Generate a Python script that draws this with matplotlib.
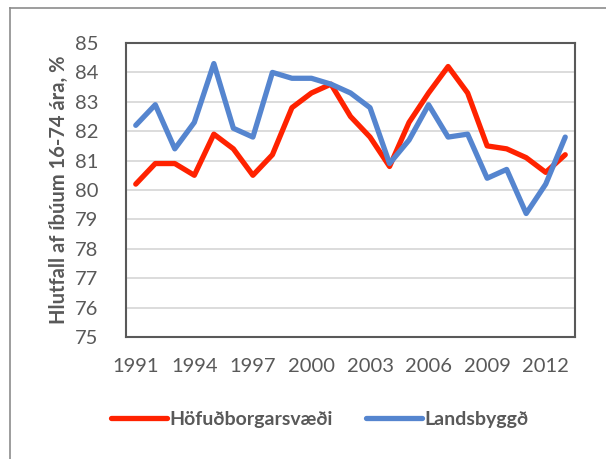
import matplotlib
matplotlib.use("Agg")
import matplotlib.pyplot as plt
from matplotlib.lines import Line2D

years = list(range(1991, 2014))
hofud = [80.2, 80.9, 80.9, 80.5, 81.9, 81.4, 80.5, 81.2, 82.8, 83.3, 83.6, 82.5,
         81.8, 80.8, 82.3, 83.3, 84.2, 83.3, 81.5, 81.4, 81.1, 80.6, 81.2]
lands = [82.2, 82.9, 81.4, 82.3, 84.3, 82.1, 81.8, 84.0, 83.8, 83.8, 83.6, 83.3,
         82.8, 80.9, 81.7, 82.9, 81.8, 81.9, 80.4, 80.7, 79.2, 80.2, 81.8]
yticks = list(range(75, 86))
xtick_years = [1991, 1994, 1997, 2000, 2003, 2006, 2009, 2012]
series_names = ["Höfuðborgarsvæði", "Landsbyggð"]

plt.rcParams['font.family'] = ['Lato', 'DejaVu Sans']
W, H = 606, 459
fig = plt.figure(figsize=(W/100, H/100), dpi=100)
ax = fig.add_axes([126/W, 1-337/H, (575-126)/W, (337-43)/H])

idx = list(range(len(years)))
ax.plot(idx, hofud, color='#FF2200', lw=3.8, solid_capstyle='round', solid_joinstyle='round', label=series_names[0], zorder=3)
ax.plot(idx, lands, color='#5585CF', lw=3.8, solid_capstyle='round', solid_joinstyle='round', label=series_names[1], zorder=3)

ax.set_xlim(-0.5, len(years)-0.5)
ax.set_ylim(75, 85)
ax.set_yticks(yticks)
ax.set_yticklabels([str(v) for v in yticks])
ax.set_xticks([years.index(y) for y in xtick_years])
ax.set_xticklabels([str(y) for y in xtick_years])
ax.tick_params(axis='both', length=0, labelsize=14.5, colors='#595959')
ax.tick_params(axis='x', pad=15)
ax.tick_params(axis='y', pad=20)
ax.grid(axis='y', color='#D9D9D9', lw=1.3, zorder=0)
ax.set_axisbelow(True)
for s in ax.spines.values():
    s.set_color('#595959')
    s.set_linewidth(1.5)

ax.set_ylabel("Hlutfall af íbúum 16-74 ára, %", fontsize=14.5, fontweight='bold', color='#595959', labelpad=4)

leg = fig.legend(loc='center', bbox_to_anchor=(320/W, 1-419/H), ncol=2, frameon=False,
                 fontsize=14, handlelength=2.85, handletextpad=0.15, columnspacing=1.7)
for t in leg.get_texts():
    t.set_fontweight('bold')
    t.set_color('#595959')

fig.add_artist(Line2D([10/W, 10/W], [0, 1-8/H], transform=fig.transFigure, color='#8C8C8C', lw=1.2))
fig.add_artist(Line2D([10/W, 1], [1-8/H, 1-8/H], transform=fig.transFigure, color='#8C8C8C', lw=1.2))

fig.savefig("out.png", dpi=100)
